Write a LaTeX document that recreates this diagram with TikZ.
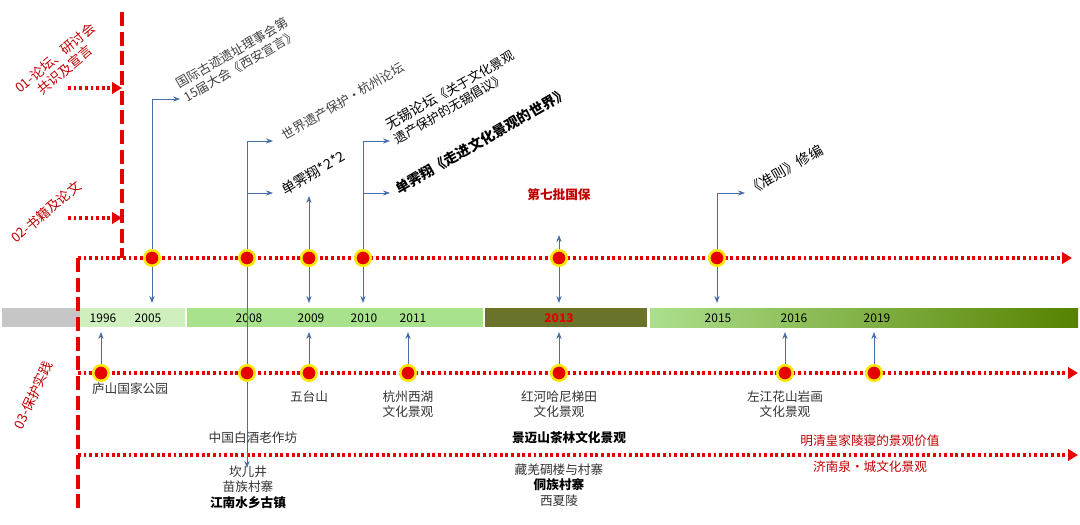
\documentclass[tikz,border=0pt]{standalone}
\usepackage{fontspec}
\setmainfont{Noto Sans CJK SC}
\usetikzlibrary{arrows.meta}
\definecolor{redline}{RGB}{230,0,0}
\definecolor{blueline}{RGB}{70,110,170}
\definecolor{darkred}{RGB}{192,0,0}
\tikzset{
  redvert/.style={redline, line width=3.5pt, dash pattern=on 10pt off 4pt},
  reddot/.style={redline, line width=2.2pt, dash pattern=on 2pt off 2pt, -{Triangle[length=7pt,width=8pt]}},
  bluearr/.style={blueline, line width=0.7pt, -{Stealth[length=5pt]}},
  dotmark/.style={circle, fill=redline, draw=yellow!90!orange, line width=1.8pt, minimum size=11pt, inner sep=0pt},
  yr/.style={font=\fontsize{8.5}{9}\selectfont},
  lab/.style={font=\fontsize{9}{11}\selectfont, align=center, text=black!80},
  tilt/.style={font=\fontsize{9}{11}\selectfont, align=left, rotate=30, anchor=south west, text=black!75},
  side/.style={text=darkred, font=\fontsize{9.5}{11}\selectfont, align=center},
}
\begin{document}
\begin{tikzpicture}[x=0.025cm, y=-0.025cm]
\useasboundingbox (0,0) rectangle (1080,525);

% time bar
\fill[gray!45] (2,308) rectangle (80,327);
\fill[green!50!olive!25] (80,308) rectangle (185,327);
\fill[green!50!olive!45] (187,308) rectangle (483,327);
\fill[olive!80!green!70!black] (485,308) rectangle (647,327);
\shade[left color=green!45!olive!45, right color=olive!80!green!85!black] (650,308) rectangle (1078,327);
\foreach \x/\y in {103/1996,148/2005,249/2008,311/2009,364/2010,413/2011,718/2015,794/2016,877/2019}
  \node[yr] (y\y) at (\x,318) {\y};
\node[yr, text=redline, font=\fontsize{8.5}{9}\selectfont\bfseries] (y2013) at (559,318) {2013};

% axes
\draw[redvert] (122,12) -- (122,258);
\draw[redvert] (78,258) -- (78,512);
\coordinate (t0) at (78,258); \coordinate (t1) at (1072,258);
\coordinate (m0) at (78,373); \coordinate (m1) at (1078,373);
\coordinate (b0) at (78,455); \coordinate (b1) at (1078,455);
\draw[reddot] (t0) -- (t1);
\draw[reddot] (m0) -- (m1);
\draw[reddot] (b0) -- (b1);
\coordinate (a1) at (68,88); \coordinate (a1e) at (122,88);
\coordinate (a2) at (68,218); \coordinate (a2e) at (122,218);
\draw[reddot] (a1) -- (a1e);
\draw[reddot] (a2) -- (a2e);
\node[side, rotate=40] (c1) at (60,64) {01-论坛、研讨会\\共识及宣言};
\node[side, rotate=40] (c2) at (46,212) {02-书籍及论文};
\node[side, rotate=65] (c3) at (33,395) {03-保护实践};

% upper events
\foreach \x [count=\i] in {152,247,309,363,559,717}
  \node[dotmark] (u\i) at (\x,258) {};
\foreach \i/\x in {1/152,3/309,4/363,5/559,6/717}
  \draw[bluearr] (u\i) -- (\x,303);
\draw[bluearr] (u1) |- (180,99);
\draw[bluearr] (u2) |- (273,141);
\draw[bluearr] (247,193) -- (273,193);
\draw[bluearr] (u2) -- (247,468);
\draw[bluearr] (u3) -- (309,196);
\draw[bluearr] (u4) |- (390,141);
\draw[bluearr] (363,193) -- (390,193);
\draw[bluearr] (u5) -- (559,235);
\draw[bluearr] (u6) |- (745,193);

\node[tilt] (w1) at (186,110) {国际古迹遗址理事会第\\15届大会《西安宣言》};
\node[tilt] (w2) at (284,148) {世界遗产保护·杭州论坛};
\node[tilt, text=black, font=\fontsize{10}{12}\selectfont] (w3) at (284,203) {单霁翔*2*2};
\node[tilt, text=black] (w4) at (396,152) {{\fontsize{10}{12}\selectfont 无锡论坛}《关于文化景观\\遗产保护的无锡倡议》};
\node[tilt, text=black, font=\fontsize{10}{12}\selectfont\bfseries] (w5) at (398,203) {单霁翔《走进文化景观的世界》};
\node[text=darkred, font=\fontsize{9}{11}\selectfont\bfseries] (w6) at (559,195) {第七批国保};
\node[tilt, text=black, font=\fontsize{10}{12}\selectfont] (w7) at (750,203) {《准则》修编};

% lower events
\foreach \x [count=\i] in {101,247,309,408,559,785,874}
  \node[dotmark] (d\i) at (\x,373) {};
\foreach \i/\x in {1/101,3/309,4/408,5/559,6/785,7/874}
  \draw[bluearr] (d\i) -- (\x,332);

\node[lab] (p1) at (130,389) {庐山国家公园};
\node[lab] (p2) at (309,397) {五台山};
\node[lab] (p3) at (408,404) {杭州西湖\\文化景观};
\node[lab] (p4) at (559,404) {红河哈尼梯田\\文化景观};
\node[lab] (p5) at (785,404) {左江花山岩画\\文化景观};
\node[lab] (p6) at (253,438) {中国白酒老作坊};
\node[lab, text=black, font=\fontsize{9}{11}\selectfont\bfseries] (p7) at (569,438) {景迈山茶林文化景观};
\node[lab, text=darkred] (p8) at (870,441) {明清皇家陵寝的景观价值};
\node[lab, text=darkred] (p9) at (870,467) {济南泉·城文化景观};
\node[lab, align=center] (p10) at (248,487) {坎儿井\\苗族村寨\\{\bfseries\color{black}江南水乡古镇}};
\node[lab, align=center] (p11) at (559,485) {藏羌碉楼与村寨\\{\bfseries\color{black}侗族村寨}\\西夏陵};
\end{tikzpicture}
\end{document}
